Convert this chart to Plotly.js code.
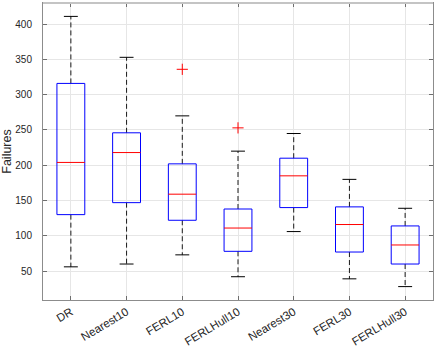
<!DOCTYPE html>
<html>
<head>
<meta charset="utf-8">
<script src="https://cdn.plot.ly/plotly-3.0.1.min.js"></script>
<style>html,body{margin:0;padding:0;background:#fff;}#chart{width:436px;height:351px;}</style>
</head>
<body>
<div id="chart"></div>
<script>
// Data
const categories = ["DR", "Nearest10", "FERL10", "FERLHull10", "Nearest30", "FERL30", "FERLHull30"];
const lowerWhisker = [56, 60, 73, 42, 106, 39, 28];
const q1Values     = [130, 147, 122, 78, 140, 77, 60];
const medianValues = [204, 218, 159, 111, 185, 116, 87];
const q3Values     = [316, 246, 202, 138, 210, 141, 114];
const upperWhisker = [411, 353, 270, 220, 245, 180, 139];
const outlierGroup = ["FERL10", "FERLHull10"];
const outlierValues = [336, 253];
const yTicks = [50, 100, 150, 200, 250, 300, 350, 400];

const BOX_HALF = 0.25, CAP_HALF = 0.125;
const pos = categories.map((c, i) => i + 1);

const wx = [], wy = [], cx = [], cy = [], bx = [], by = [], mx = [], my = [];
pos.forEach((p, i) => {
  wx.push(p, p, null, p, p, null);
  wy.push(q3Values[i], upperWhisker[i], null, q1Values[i], lowerWhisker[i], null);
  cx.push(p - CAP_HALF, p + CAP_HALF, null, p - CAP_HALF, p + CAP_HALF, null);
  cy.push(upperWhisker[i], upperWhisker[i], null, lowerWhisker[i], lowerWhisker[i], null);
  bx.push(p - BOX_HALF, p + BOX_HALF, p + BOX_HALF, p - BOX_HALF, p - BOX_HALF, null);
  by.push(q1Values[i], q1Values[i], q3Values[i], q3Values[i], q1Values[i], null);
  mx.push(p - BOX_HALF, p + BOX_HALF, null);
  my.push(medianValues[i], medianValues[i], null);
});
const ox = outlierGroup.map(g => categories.indexOf(g) + 1);

const traces = [
  {x: wx, y: wy, mode: 'lines', line: {color: '#1a1a1a', width: 1, dash: '5px,3px'}, hoverinfo: 'skip'},
  {x: cx, y: cy, mode: 'lines', line: {color: '#000', width: 1}, hoverinfo: 'skip'},
  {x: bx, y: by, mode: 'lines', line: {color: '#0000ff', width: 1}, hoverinfo: 'skip'},
  {x: mx, y: my, mode: 'lines', line: {color: '#ff0000', width: 1}, hoverinfo: 'skip'},
  {x: ox, y: outlierValues, mode: 'markers', marker: {symbol: 'cross-thin-open', size: 8, color: '#ff0000', line: {color: '#ff0000', width: 1}}, hoverinfo: 'skip'}
].map(t => Object.assign({type: 'scatter', showlegend: false}, t));

const FONT = 'Liberation Sans, Arial, Helvetica, sans-serif';
const axisCommon = {
  showline: true, linecolor: '#8c8c8c', linewidth: 1, mirror: 'ticks',
  ticks: 'inside', ticklen: 4, tickcolor: '#6e6e6e', tickwidth: 1,
  showgrid: true, gridcolor: '#e6e6e6', gridwidth: 1, zeroline: false
};

const layout = {
  width: 436, height: 351,
  margin: {l: 43, r: 3, t: 3, b: 51},
  paper_bgcolor: '#fff', plot_bgcolor: '#fff',
  showlegend: false,
  xaxis: Object.assign({}, axisCommon, {
    range: [0.5, 7.5], tickmode: 'array', tickvals: pos, ticktext: categories, tickangle: -31,
    ticklabelstandoff: 0,
    tickfont: {family: FONT, size: 11.5, color: '#262626'}
  }),
  yaxis: Object.assign({}, axisCommon, {
    range: [9, 430], tickmode: 'array', tickvals: yTicks,
    ticklabelstandoff: 8,
    tickfont: {family: FONT, size: 10, color: '#262626'},
    title: {text: 'Failures', standoff: 4, font: {family: FONT, size: 12.5, color: '#262626'}}
  }),
  shapes: [
    {type: 'line', xref: 'paper', yref: 'paper', x0: 0, x1: 1, y0: 1, y1: 1, line: {color: '#c4c4c4', width: 2}}
  ]
};

Plotly.newPlot('chart', traces, layout, {staticPlot: true, displayModeBar: false});
</script>
</body>
</html>
